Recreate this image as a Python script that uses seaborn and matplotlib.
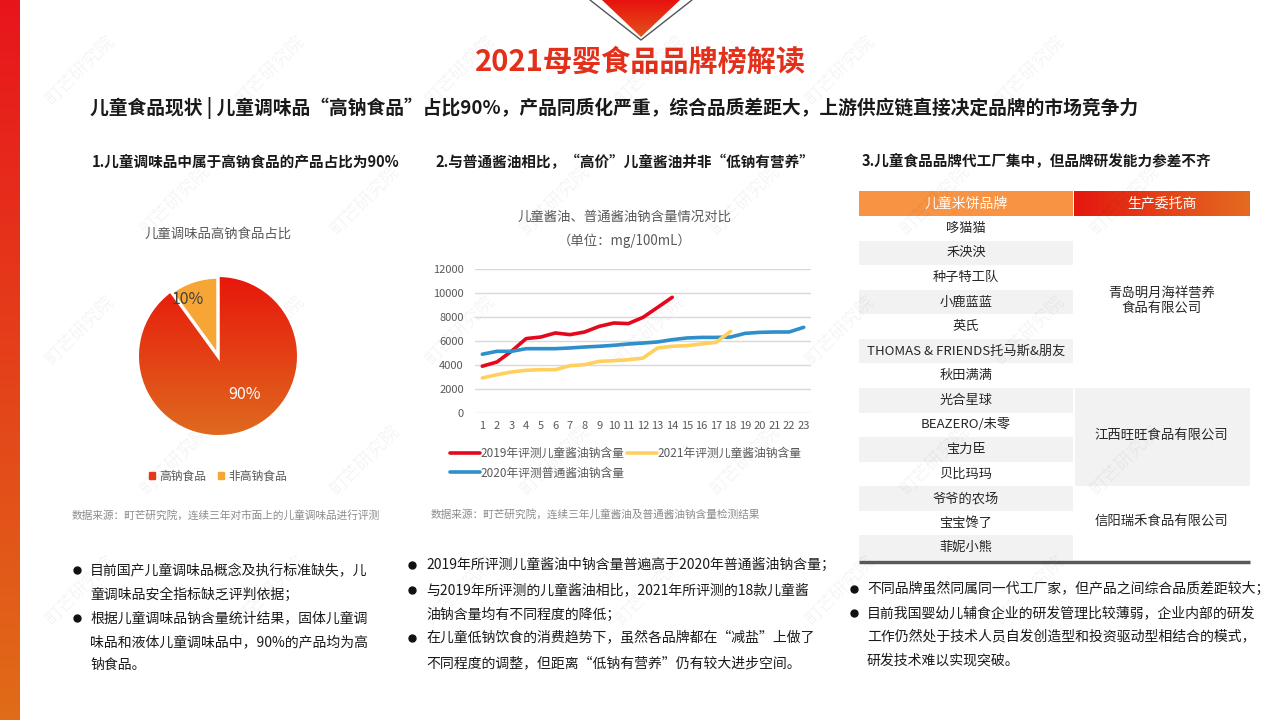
import numpy as np
import pandas as pd
import matplotlib.pyplot as plt
import matplotlib.colors as mcolors
from matplotlib.patches import Rectangle, Polygon
import seaborn as sns

# ---- data ----
pie_labels = ["高钠食品", "非高钠食品"]
pie_values = [90, 10]

x_2019 = list(range(1, 15))
na_2019 = [3900, 4250, 5150, 6200, 6330, 6670, 6530, 6750, 7220, 7500, 7450, 7970, 8800, 9640]
x_2020 = list(range(1, 24))
na_2020 = [4900, 5140, 5140, 5360, 5360, 5360, 5420, 5500, 5560, 5640, 5750, 5830,
           5920, 6110, 6250, 6300, 6300, 6330, 6640, 6720, 6750, 6750, 7140]
x_2021 = list(range(1, 19))
na_2021 = [2920, 3190, 3420, 3560, 3610, 3610, 3940, 4030, 4300, 4360, 4440, 4580,
           5420, 5560, 5610, 5750, 5890, 6800]
series_names = ["2019年评测儿童酱油钠含量", "2020年评测普通酱油钠含量", "2021年评测儿童酱油钠含量"]
series_colors = ["#E3081B", "#2E8FCB", "#FFD05E"]

brands = ["哆猫猫", "禾泱泱", "种子特工队", "小鹿蓝蓝", "英氏", "THOMAS & FRIENDS托马斯&朋友",
          "秋田满满", "光合星球", "BEAZERO/未零", "宝力臣", "贝比玛玛", "爷爷的农场",
          "宝宝馋了", "菲妮小熊"]
makers = ["青岛明月海祥营养\n食品有限公司", "江西旺旺食品有限公司", "信阳瑞禾食品有限公司"]
maker_rows = [7, 4, 3]

bullets_1 = [["目前国产儿童调味品概念及执行标准缺失，儿", "童调味品安全指标缺乏评判依据；"],
             ["根据儿童调味品钠含量统计结果，固体儿童调", "味品和液体儿童调味品中，90%的产品均为高", "钠食品。"]]
bullets_2 = [["2019年所评测儿童酱油中钠含量普遍高于2020年普通酱油钠含量；"],
             ["与2019年所评测的儿童酱油相比，2021年所评测的18款儿童酱", "油钠含量均有不同程度的降低；"],
             ["在儿童低钠饮食的消费趋势下，虽然各品牌都在“减盐”上做了", "不同程度的调整，但距离“低钠有营养”仍有较大进步空间。"]]
bullets_3 = [["不同品牌虽然同属同一代工厂家，但产品之间综合品质差距较大；"],
             ["目前我国婴幼儿辅食企业的研发管理比较薄弱，企业内部的研发", "工作仍然处于技术人员自发创造型和投资驱动型相结合的模式，", "研发技术难以实现突破。"]]

sns.set_theme(style="white")
plt.rcParams['font.family'] = ['Noto Sans CJK SC', 'DejaVu Sans']

W, H = 1280, 720
fig = plt.figure(figsize=(12.8, 7.2), dpi=100)


def fr(x0, y0, x1, y1):
    return [x0 / W, 1 - y1 / H, (x1 - x0) / W, (y1 - y0) / H]


def grad(ax, extent, c0, c1, clip=None, horizontal=False, z=1):
    a = np.array(mcolors.to_rgb(c0))
    b = np.array(mcolors.to_rgb(c1))
    t = np.linspace(0, 1, 256)[:, None]
    arr = a * (1 - t) + b * t
    arr = arr[None, :, :] if horizontal else arr[:, None, :]
    im = ax.imshow(arr, extent=extent, aspect='auto', origin='upper', zorder=z, interpolation='bilinear')
    if clip is not None:
        im.set_clip_path(clip)
    return im


bg = fig.add_axes([0, 0, 1, 1])
bg.axis('off')

# decorations
grad(bg, (0, 20, 720, 0), "#E8151C", "#E06C18")
bg.plot([590, 641, 692], [0, 40, 0], color="#555555", lw=1, zorder=2)
tri = Polygon([[602, 0], [680, 0], [641, 37]], closed=True, facecolor="none", edgecolor="none")
bg.add_patch(tri)
grad(bg, (602, 680, 37, 0), "#E8120E", "#E3521C", clip=tri, z=3)

bg.text(640, 62, "2021母婴食品品牌榜解读", ha='center', va='center', fontsize=21,
        fontweight='bold', color="#E2301B")
bg.text(90, 108, "儿童食品现状 | 儿童调味品“高钠食品”占比90%，产品同质化严重，综合品质差距大，上游供应链直接决定品牌的市场竞争力",
        ha='left', va='center', fontsize=13.5, fontweight='bold', color="#1a1a1a")

bg.text(92, 162, "1.儿童调味品中属于高钠食品的产品占比为90%", ha='left', va='center', fontsize=10.5,
        fontweight='bold', color="#1a1a1a")
bg.text(435, 162, "2.与普通酱油相比，“高价”儿童酱油并非“低钠有营养”", ha='left', va='center', fontsize=10.5,
        fontweight='bold', color="#1a1a1a")
bg.text(862, 160, "3.儿童食品品牌代工厂集中，但品牌研发能力参差不齐", ha='left', va='center', fontsize=10.5,
        fontweight='bold', color="#1a1a1a")

# pie chart titles / sources
bg.text(218, 234, "儿童调味品高钠食品占比", ha='center', va='center', fontsize=9.6, color="#595959")
bg.text(72, 515, "数据来源：町芒研究院，连续三年对市面上的儿童调味品进行评测", ha='left', va='center',
        fontsize=7.7, color="#8c8c8c")
bg.text(625, 217, "儿童酱油、普通酱油钠含量情况对比", ha='center', va='center', fontsize=9.6, color="#595959")
bg.text(625, 241, "（单位：mg/100mL）", ha='center', va='center', fontsize=9.6, color="#595959")
bg.text(431, 514, "数据来源：町芒研究院，连续三年儿童酱油及普通酱油钠含量检测结果", ha='left', va='center',
        fontsize=7.7, color="#8c8c8c")

# table
tx0, tmid, tx1 = 859, 1073, 1250
hy0, hy1 = 191, 216
rh = (560 - 216) / len(brands)
bg.add_patch(Rectangle((tx0, hy0), tmid - tx0, hy1 - hy0, facecolor="#F79343", edgecolor="none", zorder=2))
hdr = Rectangle((tmid + 1, hy0), tx1 - tmid - 1, hy1 - hy0, facecolor="none", edgecolor="none")
bg.add_patch(hdr)
grad(bg, (tmid + 1, tx1, hy1, hy0), "#E5170F", "#E46B20", clip=hdr, horizontal=True, z=2)
bg.text((tx0 + tmid) / 2, (hy0 + hy1) / 2, "儿童米饼品牌", ha='center', va='center', fontsize=10, color="white", zorder=4)
bg.text((tmid + tx1) / 2, (hy0 + hy1) / 2, "生产委托商", ha='center', va='center', fontsize=10, color="white", zorder=4)
for i, name in enumerate(brands):
    y0 = hy1 + i * rh
    if i % 2 == 1:
        bg.add_patch(Rectangle((tx0, y0), tmid - tx0, rh, facecolor="#F2F2F2", edgecolor="none", zorder=1))
    bg.text((tx0 + tmid) / 2, y0 + rh / 2, name, ha='center', va='center', fontsize=9.5, color="#262626", zorder=4)
start = 0
for j, (m, n) in enumerate(zip(makers, maker_rows)):
    y0 = hy1 + start * rh
    if j % 2 == 1:
        bg.add_patch(Rectangle((tmid + 2, y0), tx1 - tmid - 2, n * rh, facecolor="#F2F2F2", edgecolor="none", zorder=1))
    bg.text((tmid + tx1) / 2, y0 + n * rh / 2 - 2, m, ha='center', va='center', fontsize=9.6, color="#262626",
            linespacing=1.1, zorder=4)
    start += n
bg.plot([tx0, tx1], [561.5, 561.5], color="#595959", lw=2.5, zorder=4, solid_capstyle='butt')


# bullets
def bullets(items, xdot, xtext, ys):
    k = 0
    for item in items:
        for li, line in enumerate(item):
            if li == 0:
                bg.plot([xdot], [ys[k]], marker='o', ms=5, color="#111111", zorder=4)
            bg.text(xtext, ys[k], line, ha='left', va='center', fontsize=10, color="#1a1a1a", zorder=4)
            k += 1


bullets(bullets_1, 77, 90, [570, 595, 618, 642, 665])
bullets(bullets_2, 412, 426, [565, 590, 615, 638, 663])
bullets(bullets_3, 854, 867, [589, 613, 637, 660])

# watermarks (kept inside the canvas)
for r, yy in enumerate(range(70, 680, 130)):
    for xx in range(80 + (r % 2) * 95, 1220, 190):
        bg.text(xx, yy, "町芒研究院", rotation=45, ha='center', va='center', fontsize=13,
                color="#000000", alpha=0.045, zorder=6)

bg.set_xlim(0, W)
bg.set_ylim(H, 0)

# ---- pie ----
pax = fig.add_axes(fr(139, 277, 297, 435))
pax.set_facecolor("none")
wedges, texts = pax.pie(pie_values, startangle=90, counterclock=False,
                        colors=["#E3391A", "#F7A535"],
                        wedgeprops=dict(edgecolor="white", linewidth=2.5))
wedges[1].set_zorder(3)
grad(pax, (-1.05, 1.05, -1.05, 1.05), "#E8150B", "#DF6C1F", clip=wedges[0], z=2)
pax.text(-0.38, 0.72, "10%", ha='center', va='center', fontsize=11.5, color="#404040", zorder=5)
pax.text(0.34, -0.49, "90%", ha='center', va='center', fontsize=11.5, color="white", zorder=5)
pax.set_xlim(-1, 1)
pax.set_ylim(-1, 1)
pax.set_aspect('equal')
pax.axis('off')
leg = pax.legend([Rectangle((0, 0), 1, 1, color="#E3391A"), Rectangle((0, 0), 1, 1, color="#F7A535")],
                 pie_labels, ncol=2, loc='center', bbox_to_anchor=(218 / W, 1 - 476 / H),
                 bbox_transform=fig.transFigure, frameon=False, handlelength=0.5, handleheight=0.5,
                 handletextpad=0.4, columnspacing=1.0, fontsize=8.5)
for t in leg.get_texts():
    t.set_color("#595959")

# ---- line chart ----
df = pd.concat([
    pd.DataFrame({"x": x_2019, "v": na_2019, "s": series_names[0]}),
    pd.DataFrame({"x": x_2020, "v": na_2020, "s": series_names[1]}),
    pd.DataFrame({"x": x_2021, "v": na_2021, "s": series_names[2]}),
])
lax = fig.add_axes(fr(475, 269, 811, 413))
lax.set_facecolor("none")
sns.lineplot(data=df, x="x", y="v", hue="s", hue_order=series_names, palette=series_colors,
             linewidth=2.6, ax=lax, legend=False)
lax.set_xlim(0.5, 23.5)
lax.set_ylim(0, 12000)
lax.set_xticks(range(1, 24))
lax.set_yticks(range(0, 12001, 2000))
lax.set_xlabel("")
lax.set_ylabel("")
lax.grid(axis='y', color="#D9D9D9", lw=1)
lax.set_axisbelow(True)
for sp in lax.spines.values():
    sp.set_visible(False)
lax.tick_params(axis='both', length=0, labelsize=8, labelcolor="#595959")
lax.tick_params(axis='y', pad=8)
lax.tick_params(axis='x', pad=6)
leg2 = lax.legend(lax.get_lines()[:3], series_names, ncol=2, loc='upper left',
                  bbox_to_anchor=(450 / W, 1 - 447 / H), bbox_transform=fig.transFigure,
                  frameon=False, handlelength=2.5, handletextpad=0.1, columnspacing=0.2,
                  borderaxespad=0, borderpad=0, labelspacing=0.55, fontsize=8.5)
for t in leg2.get_texts():
    t.set_color("#595959")

fig.savefig("out.png", dpi=100)
